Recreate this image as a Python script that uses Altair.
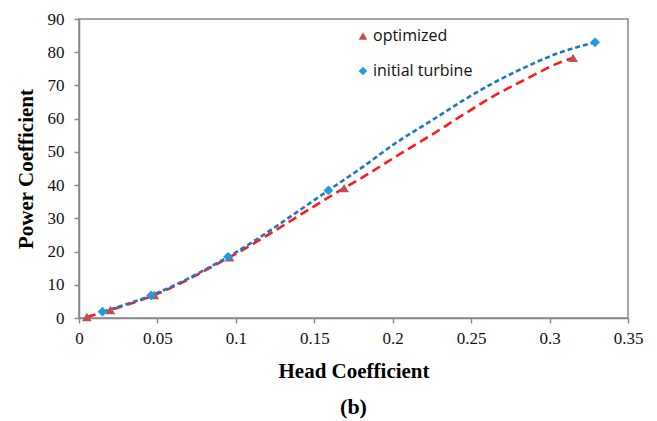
import altair as alt
import pandas as pd

series_names = ["optimized", "initial turbine"]

# measured points (markers)
opt_x = [0.005, 0.020, 0.048, 0.096, 0.169, 0.315]
opt_y = [0.3, 2.4, 6.9, 18.3, 39.1, 78.3]
ini_x = [0.015, 0.046, 0.095, 0.159, 0.329]
ini_y = [1.9, 6.8, 18.4, 38.4, 83.0]

# smoothed curves
opt_line_x = [0.005, 0.020, 0.048, 0.096, 0.169, 0.181, 0.202, 0.224, 0.245, 0.264, 0.285, 0.306, 0.315]
opt_line_y = [0.3, 2.4, 6.9, 18.3, 39.1, 42.4, 48.6, 54.9, 61.2, 66.7, 71.9, 76.8, 78.3]
ini_line_x = [0.015, 0.046, 0.095, 0.159, 0.181, 0.202, 0.224, 0.245, 0.264, 0.285, 0.306, 0.329]
ini_line_y = [1.9, 6.8, 18.4, 38.4, 45.5, 52.7, 59.2, 65.5, 70.7, 75.6, 79.8, 83.0]

x_ticks = [0, 0.05, 0.1, 0.15, 0.2, 0.25, 0.3, 0.35]
y_ticks = [0, 10, 20, 30, 40, 50, 60, 70, 80, 90]

pts = pd.DataFrame(
    {
        "x": opt_x + ini_x,
        "y": opt_y + ini_y,
        "series": [series_names[0]] * len(opt_x) + [series_names[1]] * len(ini_x),
    }
)
lines = pd.DataFrame(
    {
        "x": opt_line_x + ini_line_x,
        "y": opt_line_y + ini_line_y,
        "series": [series_names[0]] * len(opt_line_x) + [series_names[1]] * len(ini_line_x),
    }
)

X = alt.X(
    "x:Q",
    scale=alt.Scale(domain=[0, 0.35], nice=False),
    axis=alt.Axis(title="Head Coefficient", values=x_ticks, format="~g", grid=False, labelFlush=False),
)
Y = alt.Y(
    "y:Q",
    scale=alt.Scale(domain=[0, 90], nice=False),
    axis=alt.Axis(title="Power Coefficient", values=y_ticks, grid=False),
)

lbase = alt.Chart(lines)
line_opt = lbase.transform_filter(alt.datum.series == series_names[0]).mark_line(
    color="#FF1A1A", strokeWidth=2.6, strokeDash=[9, 5], interpolate="monotone"
).encode(x=X, y=Y)
line_ini = lbase.transform_filter(alt.datum.series == series_names[1]).mark_line(
    color="#1F74C4", strokeWidth=2.6, strokeDash=[5, 3], interpolate="monotone"
).encode(x=X, y=Y)

points = alt.Chart(pts).mark_point(filled=True, opacity=1, size=95).encode(
    x=X,
    y=Y,
    color=alt.Color(
        "series:N",
        scale=alt.Scale(domain=series_names, range=["#C0504D", "#1F9BDE"]),
        legend=alt.Legend(
            title=None,
            orient="none",
            legendX=276,
            legendY=9,
            labelFont="Open Sans",
            labelFontSize=16,
            labelColor="#111111",
            symbolSize=75,
            rowPadding=19,
            labelOffset=2,
            padding=0,
        ),
    ),
    shape=alt.Shape(
        "series:N",
        scale=alt.Scale(domain=series_names, range=["triangle-up", "diamond"]),
        legend=None,
    ),
)

chart = (
    alt.layer(line_opt, line_ini, points)
    .properties(
        width=549,
        height=299,
        autosize=alt.AutoSizeParams(type="none"),
        padding={"left": 79, "top": 19, "right": 29, "bottom": 103},
        title=alt.TitleParams(
            "(b)",
            orient="bottom",
            anchor="middle",
            font="Liberation Serif",
            fontSize=22,
            fontWeight="bold",
            color="#000000",
            offset=16,
        ),
    )
    .configure_view(stroke="#888888", strokeWidth=1.5)
    .configure_axis(
        domainColor="#888888",
        domainWidth=1.5,
        tickColor="#888888",
        tickWidth=1.5,
        tickSize=5,
        labelFont="Liberation Serif",
        labelFontSize=17,
        labelColor="#111111",
        titleFont="Liberation Serif",
        titleFontSize=21,
        titleFontWeight="bold",
        titleColor="#000000",
    )
    .configure_axisX(titlePadding=14, labelPadding=7)
    .configure_axisY(titlePadding=11, labelPadding=10)
)

chart.save("out.html", embed_options={"renderer": "svg", "actions": False})
